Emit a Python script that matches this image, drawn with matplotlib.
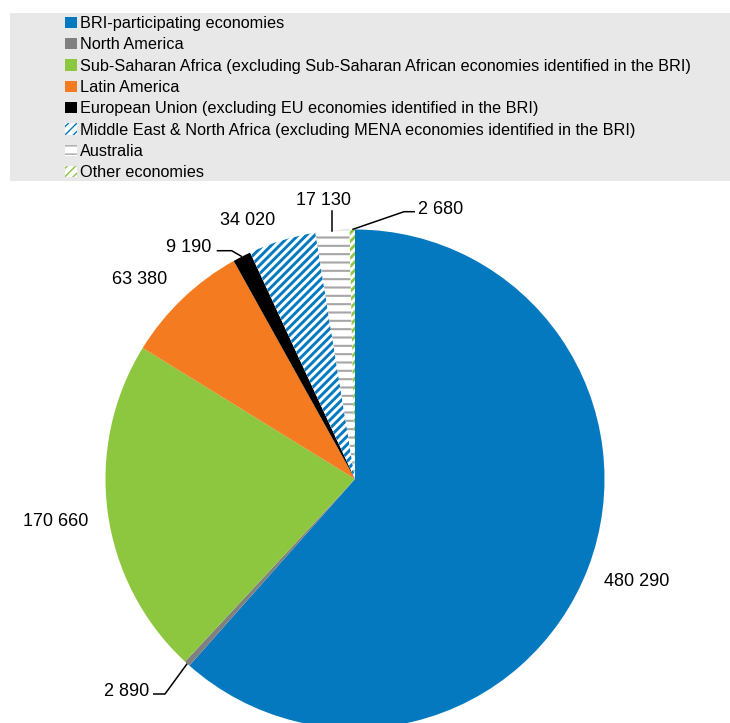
import numpy as np
import matplotlib
matplotlib.use("Agg")
from matplotlib import pyplot as plt
from matplotlib.patches import Rectangle

# Data
regions = ["BRI-participating economies",
           "North America",
           "Sub-Saharan Africa (excluding Sub-Saharan African economies identified in the BRI)",
           "Latin America",
           "European Union (excluding EU economies identified in the BRI)",
           "Middle East & North Africa (excluding MENA economies identified in the BRI)",
           "Australia",
           "Other economies"]
values = [480290, 2890, 170660, 63380, 9190, 34020, 17130, 2680]
value_labels = ["480 290", "2 890", "170 660", "63 380", "9 190", "34 020", "17 130", "2 680"]

blue = '#0579C0'
green = '#8DC63F'
face_colors = [blue, '#808080', green, '#F47B20', '#000000', 'white', 'white', 'white']
hatches = [None, None, None, None, None, '////', '--', '////']
hatch_colors = [blue, '#808080', green, '#F47B20', '#000000', blue, '#A6A6A6', green]
hatch_widths = [1, 1, 1, 1, 1, 2.1, 1.5, 2.0]

label_font = ['Liberation Sans', 'DejaVu Sans']
legend_font = ['Liberation Sans', 'DejaVu Sans']

W, H = 730, 723
fig = plt.figure(figsize=(W / 100.0, H / 100.0), dpi=100)

# grey legend band
fig.patches.append(Rectangle((10.0 / W, 1 - 181.0 / H), 720.0 / W, 168.0 / H,
                             transform=fig.transFigure, facecolor='#E8E8E8',
                             edgecolor='none', zorder=0))

# pie axes: centre (355, 479) px, radius 249.5 px
cx, cy, rad = 355.0, 479.0, 249.5
ax = fig.add_axes([(cx - rad) / W, (H - cy - rad) / H, 2 * rad / W, 2 * rad / H])

wedges, _ = ax.pie(values, startangle=90, counterclock=False, radius=1,
                   colors=face_colors, wedgeprops=dict(linewidth=0))
for w, h, hc, hw in zip(wedges, hatches, hatch_colors, hatch_widths):
    w.set_edgecolor(hc)
    w.set_linewidth(0)
    if h:
        w.set_hatch(h)
        if hasattr(w, 'set_hatch_linewidth'):
            w.set_hatch_linewidth(hw)
        else:
            plt.rcParams['hatch.linewidth'] = hw

ax.set_xlim(-1, 1)
ax.set_ylim(-1, 1)
ax.set_aspect('auto')
ax.axis('off')

def px(x, y):
    return (x - cx) / rad, (cy - y) / rad

# mid-angle of each slice (degrees)
frac = np.cumsum([0] + values) / float(sum(values))
mids = 90 - 360 * (frac[:-1] + frac[1:]) / 2.0

def edge(i):
    a = np.radians(mids[i])
    return np.cos(a), np.sin(a)

# label text positions (pixel centres) and alignment
label_pos = {0: (637, 580, 'center'),
             1: (149, 690, 'right'),
             2: (56, 519, 'center'),
             3: (140, 277.5, 'center'),
             4: (211, 245.5, 'right'),
             5: (247.5, 218.5, 'center'),
             6: (323, 198.5, 'center'),
             7: (418, 207, 'left')}

for i, lab in enumerate(value_labels):
    x, y, ha = label_pos[i]
    tx, ty = px(x, y)
    ax.text(tx, ty, lab, ha=ha, va='center_baseline', fontsize=13,
            family=label_font, color='black', clip_on=False)

# leader lines
def leader(i, pts):
    ex, ey = edge(i)
    xs = [ex] + [px(p[0], p[1])[0] for p in pts]
    ys = [ey] + [px(p[0], p[1])[1] for p in pts]
    ax.plot(xs, ys, color='black', lw=1.1, clip_on=False, solid_capstyle='butt')

leader(1, [(165, 694), (153, 694)])
leader(4, [(231.7, 250.7), (216.7, 250.7)])
ex6, ey6 = edge(6)
ax.plot([ex6, ex6], [ey6, px(0, 211)[1]], color='black', lw=1.1, clip_on=False)
leader(7, [(404, 211.7), (415, 211.7)])

leg = fig.legend(wedges, regions, loc='upper left',
                 bbox_to_anchor=(65.0 / W, 1 - 16.0 / H),
                 frameon=False, borderpad=0, borderaxespad=0,
                 handlelength=0.72, handleheight=0.72, handletextpad=0.22,
                 labelspacing=0.39, prop=dict(family=legend_font, size=11.7))

fig.savefig("out.png", dpi=100)
